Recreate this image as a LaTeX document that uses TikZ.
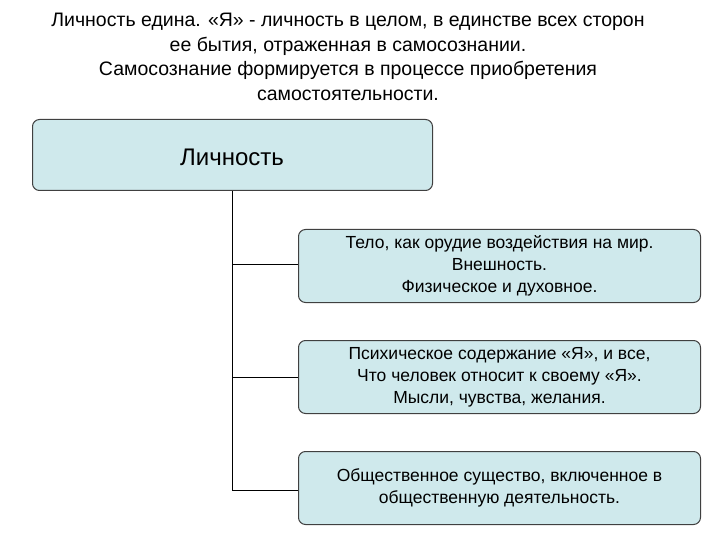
\documentclass[tikz,border=0pt]{standalone}
\usepackage{fontspec}
\setmainfont{Liberation Sans}
\definecolor{boxfill}{HTML}{CFE9EC}
\definecolor{boxline}{HTML}{404040}
\begin{document}
\begin{tikzpicture}[x=1pt,y=-1pt,
  box/.style={draw=boxline,line width=1pt,fill=boxfill,rounded corners=7pt,minimum width=402pt,minimum height=73pt,align=center,font=\fontsize{17.5}{22}\selectfont,anchor=north west,inner sep=2pt},
  conn/.style={line width=1pt,draw=black}]
\useasboundingbox (0,0) rectangle (720,540);
\node[align=center,font=\fontsize{19.5}{24.5}\selectfont] (title) at (348,57) {Личность едина. «Я» - личность в целом, в единстве всех сторон\\ее бытия, отраженная в самосознании.\\Самосознание формируется в процессе приобретения\\самостоятельности.};
\node[box,minimum width=400pt,minimum height=71pt] (main) at (32,119) {};
\node[font=\fontsize{24}{28}\selectfont] (lbl) at (232,157) {Личность};
\node[box] (b1) at (298,229) {Тело, как орудие воздействия на мир.\\Внешность.\\Физическое и духовное.};
\node[box] (b2) at (298,340) {Психическое содержание «Я», и все,\\Что человек относит к своему «Я».\\Мысли, чувства, желания.};
\node[box] (b3) at (298,451) {Общественное существо, включенное в\\общественную деятельность.};
\coordinate (c3) at (232,490);
\draw[conn] (main.south -| c3) -- (c3) -- (c3 -| b3.west);
\draw[conn] ([yshift=2pt]b1.west -| c3) -- ([yshift=2pt]b1.west);
\draw[conn] (b2.west -| c3) -- (b2.west);
\end{tikzpicture}
\end{document}
